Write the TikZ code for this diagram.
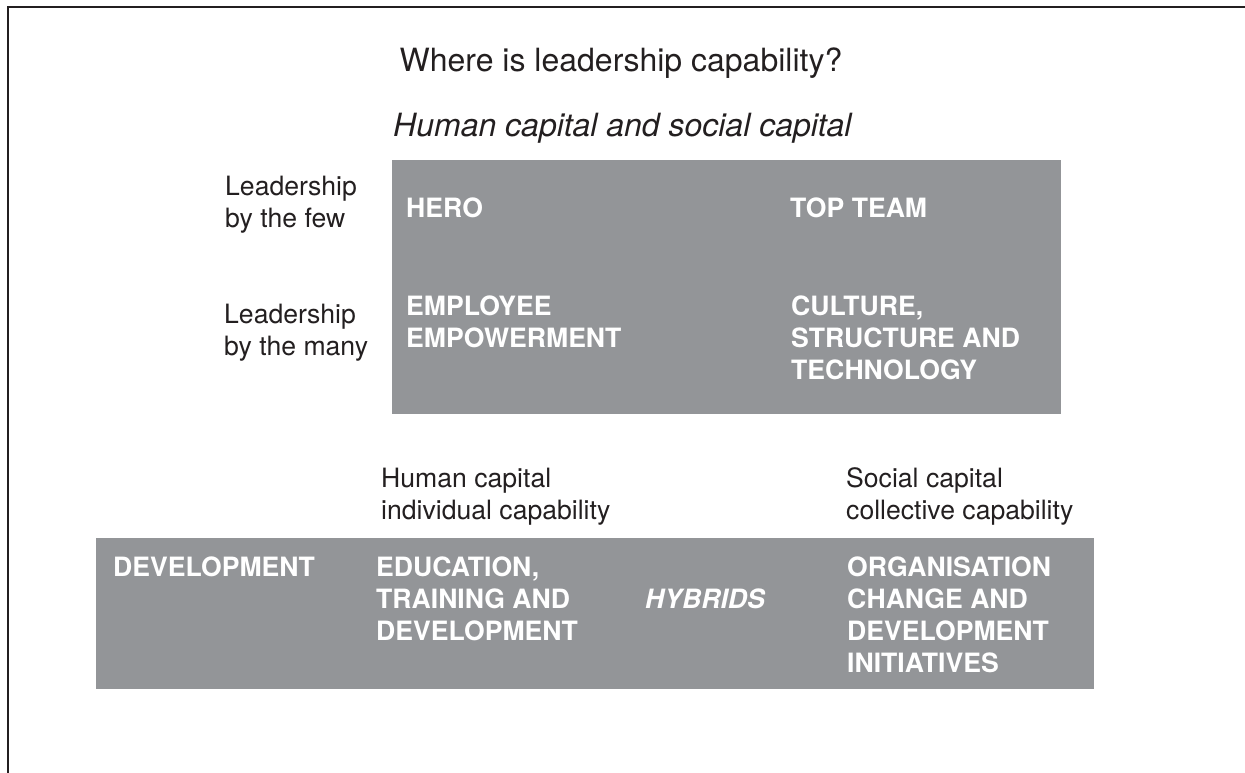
\documentclass[tikz,border=0pt]{standalone}
\usepackage{fontspec}
\setmainfont{TeX Gyre Heros}
\definecolor{boxgray}{RGB}{147,149,152}
\definecolor{ink}{RGB}{35,31,32}

\begin{document}
\begin{tikzpicture}[x=1pt,y=-1pt,
	lbl/.style={anchor=base west,inner sep=0pt,align=left,text=ink,font=\fontsize{26.6}{32}\selectfont},
	cell/.style={lbl,text=white,font=\bfseries\fontsize{26.6}{32}\selectfont}]
	\useasboundingbox (0,0) rectangle (1245,773);
	\draw[ink,line width=1.2pt] (8,773) -- (8,7) -- (1245,7);

	\fill[boxgray] (392,160) rectangle (1061,414);
	\fill[boxgray] (96,538) rectangle (1094,689);

	\node[lbl,anchor=base,font=\fontsize{32}{38}\selectfont] (title) at (621,72) {Where is leadership capability?};
	\node[lbl,font=\itshape\fontsize{32}{38}\selectfont] (sub) at (393,137) {Human capital and social capital};

	\node[lbl] (few) at (225,227) {Leadership\\by the few};
	\node[lbl] (many) at (224,355) {Leadership\\by the many};
	\node[cell] (hero) at (406,217) {HERO};
	\node[cell] (topteam) at (790,217) {TOP TEAM};
	\node[cell] (empower) at (406,347) {EMPLOYEE\\EMPOWERMENT};
	\node[cell] (culture) at (791,379) {CULTURE,\\STRUCTURE AND\\TECHNOLOGY};

	\node[lbl] (human) at (381,519) {Human capital\\individual capability};
	\node[lbl] (social) at (846,519) {Social capital\\collective capability};
	\node[cell] (dev) at (113,576) {DEVELOPMENT};
	\node[cell] (edu) at (376,640) {EDUCATION,\\TRAINING AND\\DEVELOPMENT};
	\node[cell,font=\bfseries\itshape\fontsize{26.6}{32}\selectfont] (hybrids) at (645,608) {HYBRIDS};
	\node[cell] (org) at (847,672) {ORGANISATION\\CHANGE AND\\DEVELOPMENT\\INITIATIVES};
\end{tikzpicture}
\end{document}
